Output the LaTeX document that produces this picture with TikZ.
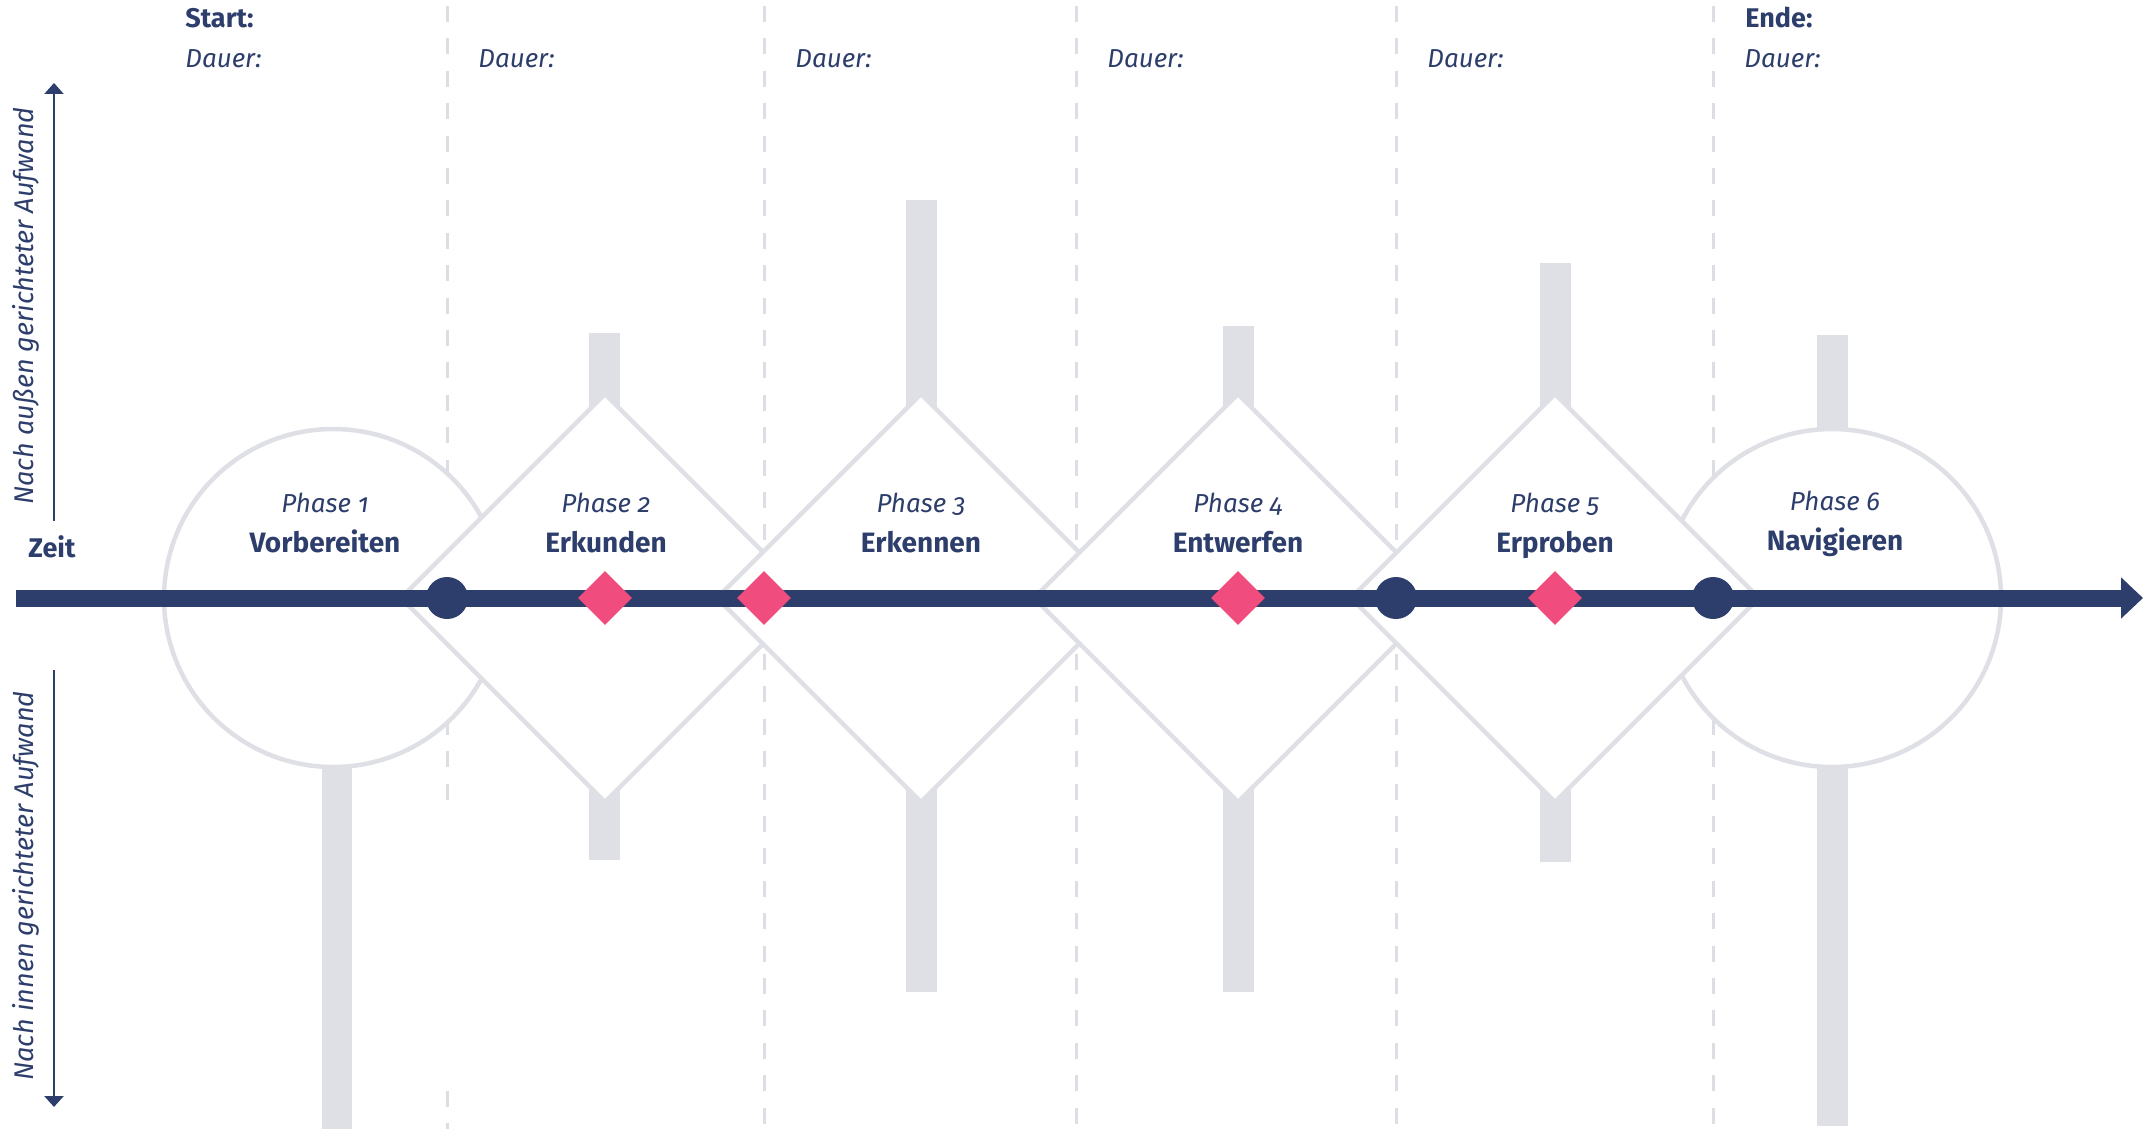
\documentclass[tikz,border=0pt]{standalone}
\usepackage{fontspec}
\setmainfont{Fira Sans}[Numbers=OldStyle]
\usetikzlibrary{arrows.meta,shapes.geometric}
\definecolor{navy}{HTML}{2D3E6C}
\definecolor{pinkm}{HTML}{F04C7D}
\definecolor{barg}{HTML}{DFE0E5}
\definecolor{lineg}{HTML}{DFE0E6}
\definecolor{dashg}{HTML}{DDDEE4}
\begin{document}
\begin{tikzpicture}[x=0.5pt,y=-0.5pt,
  bar/.style={fill=barg,draw=none},
  sep/.style={draw=dashg,line width=1.5pt,dash pattern=on 8pt off 8.2pt},
  phaseshape/.style={draw=lineg,line width=2.25pt,fill=white},
  phnum/.style={text=navy,font=\fontsize{13}{15}\selectfont\itshape,anchor=base},
  phname/.style={text=navy,font=\fontsize{14}{16}\selectfont\bfseries,anchor=base},
  dauer/.style={text=navy,font=\fontsize{13}{15}\selectfont\itshape,anchor=base west,inner sep=0pt},
  toplabel/.style={text=navy,font=\fontsize{13.5}{15}\selectfont\bfseries,anchor=base west,inner sep=0pt},
  milestone/.style={circle,fill=navy,minimum size=21pt,inner sep=0pt},
  gate/.style={diamond,fill=pinkm,minimum size=27pt,inner sep=0pt},
  effort/.style={navy,line width=1.25pt,-{Triangle[length=5.5pt,width=9.5pt]}},
  axislabel/.style={text=navy,font=\fontsize{13.5}{15}\selectfont\itshape,rotate=90,anchor=base,inner sep=0pt}
]
\useasboundingbox (0,0) rectangle (2150,1129);
% effort bars
\fill[bar] (322,598) rectangle (352,1129);
\fill[bar] (589,333) rectangle (620,860);
\fill[bar] (906,200) rectangle (937,992);
\fill[bar] (1223,326) rectangle (1254,992);
\fill[bar] (1540,263) rectangle (1571,862);
\fill[bar] (1817,335) rectangle (1848,1126);
% separators
\foreach \x in {764,1076,1396,1713} \draw[sep] (\x,6) -- (\x,1129);
\draw[sep] (447,6) -- (447,811);
\draw[sep] (447,1091) -- (447,1129);
% phase shapes
\draw[phaseshape] (333,598) circle[radius=169];
\draw[phaseshape] (1832,598) circle[radius=169];
\foreach \c in {605,921,1238,1555}
  \draw[phaseshape] (\c,394) -- (\c+204,598) -- (\c,802) -- (\c-204,598) -- cycle;
% time axis
\coordinate (t0) at (16,598);
\coordinate (t1) at (2143,598);
\draw[navy,line width=8.5pt,-{Triangle[length=11pt,width=20pt]}] (t0) -- (t1);
% milestones
\node[milestone] (m1) at (447,598) {};
\node[milestone] (m2) at (1396,598) {};
\node[milestone] (m3) at (1713,598) {};
\node[gate] (g1) at (605,598) {};
\node[gate] (g2) at (764,598) {};
\node[gate] (g3) at (1238,598) {};
\node[gate] (g4) at (1555,598) {};
% effort axes
\coordinate (u0) at (54,521);
\coordinate (u1) at (54,83);
\draw[effort] (u0) -- (u1);
\coordinate (d0) at (54,670);
\coordinate (d1) at (54,1107);
\draw[effort] (d0) -- (d1);
\node[axislabel] (aout) at (33,306) {Nach außen gerichteter Aufwand};
\node[axislabel] (ain) at (33,886) {Nach innen gerichteter Aufwand};
\node[text=navy,font=\fontsize{13.5}{15}\selectfont\bfseries,anchor=base] (zeit) at (52,557) {Zeit};
% top labels
\node[toplabel] (start) at (185,28) {Start:};
\node[toplabel] (ende) at (1745,28) {Ende:};
\node[dauer] (du1) at (185,68) {Dauer:};
\node[dauer] (du2) at (478,68) {Dauer:};
\node[dauer] (du3) at (795,68) {Dauer:};
\node[dauer] (du4) at (1107,68) {Dauer:};
\node[dauer] (du5) at (1427,68) {Dauer:};
\node[dauer] (du6) at (1744,68) {Dauer:};
% phase labels
\node[phnum] (p1) at (325,512) {Phase 1};
\node[phname] (n1) at (325,552) {Vorbereiten};
\node[phnum] (p2) at (606,512) {Phase 2};
\node[phname] (n2) at (606,552) {Erkunden};
\node[phnum] (p3) at (921,512) {Phase 3};
\node[phname] (n3) at (921,552) {Erkennen};
\node[phnum] (p4) at (1238,512) {Phase 4};
\node[phname] (n4) at (1238,552) {Entwerfen};
\node[phnum] (p5) at (1555,512) {Phase 5};
\node[phname] (n5) at (1555,552) {Erproben};
\node[phnum] (p6) at (1835,510) {Phase 6};
\node[phname] (n6) at (1835,550) {Navigieren};
\end{tikzpicture}
\end{document}
